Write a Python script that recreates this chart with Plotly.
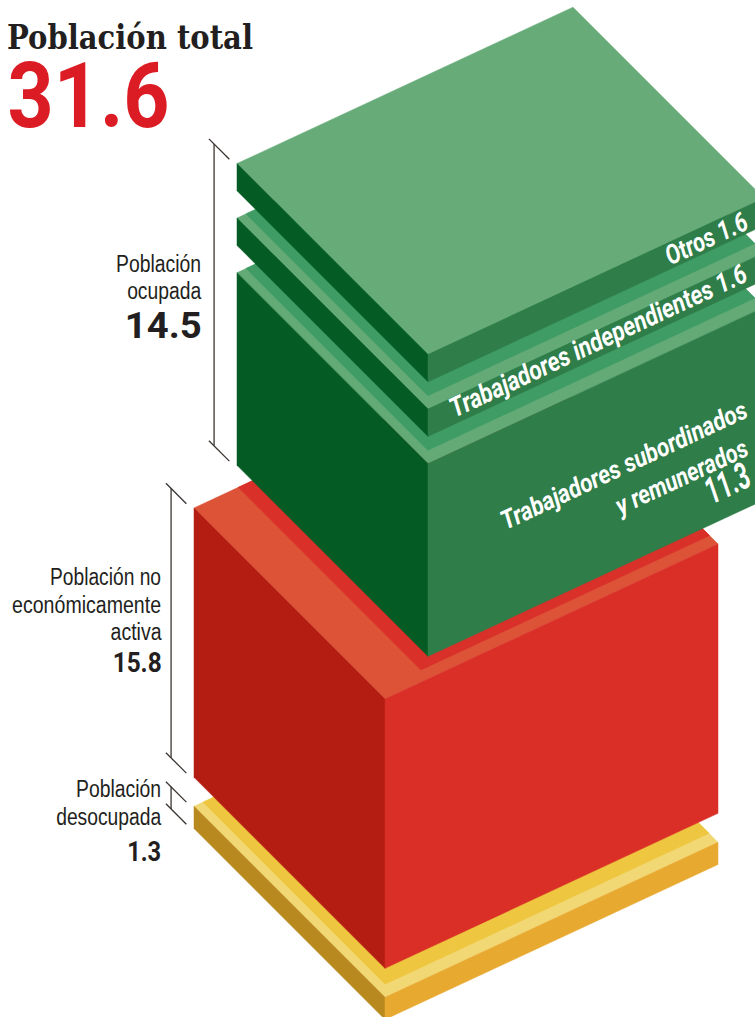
import json
import plotly.graph_objects as go

# ---- data (millions of people) ----
TOTAL = 31.6
OCUPADA = 14.5
LAYER_NAMES = ["Población desocupada", "Población no económicamente activa",
               "Trabajadores subordinados y remunerados",
               "Trabajadores independientes", "Otros"]
LAYER_VALUES = [1.3, 15.8, 11.3, 1.6, 1.6]
GAP_BELOW = [0.0, 1.7, 2.5, 1.6, 1.6]      # empty height under each layer
SHIFT_X = [0, 0, 43, 43, 43]               # sideways offset of each layer
DEPTH = [1, 1, 1.009, 1.009, 1.009]        # footprint stretch of each layer
TOP_INSET = [(0.047, 0.027), (0.044, 0.133), (0.048, 0.027), (0.048, 0.027), None]
TOP_COL = ["#f2d875", "#dd5338", "#63aa77", "#63aa77", "#66ab78"]
SHADE_COL = ["#eec63f", "#d9302a", "#3f9c64", "#3f9c64", None]
LEFT_COL = ["#b8891e", "#b41e12", "#045c24", "#045c24", "#045c24"]
RIGHT_COL = ["#e8a930", "#d92f26", "#2f7d48", "#2f7d48", "#2f7d48"]

# ---- oblique projection ----
W, H = 755, 1017
X0, Y0 = 194, 828.5
E1 = (191, 191)
E2 = (333, -155)
K = 17.05


def pt(u, v, z, sx=0, d=1):
    return (X0 + sx + u * E1[0] + v * d * E2[0],
            Y0 + u * E1[1] + v * d * E2[1] - K * z)


fig = go.Figure()


def poly(points, color):
    xs = [p[0] for p in points] + [points[0][0]]
    ys = [p[1] for p in points] + [points[0][1]]
    fig.add_trace(go.Scatter(x=xs, y=ys, mode="lines", fill="toself", fillcolor=color,
                             line=dict(color=color, width=0.5), hoverinfo="skip",
                             showlegend=False))


def line(p, q, color="#3b3532", width=1.3):
    fig.add_trace(go.Scatter(x=[p[0], q[0]], y=[p[1], q[1]], mode="lines",
                             line=dict(color=color, width=width), hoverinfo="skip",
                             showlegend=False))


z = 0.0
spans = []
for i, val in enumerate(LAYER_VALUES):
    z0 = z + GAP_BELOW[i]
    z1 = z0 + val
    z = z1
    s = SHIFT_X[i]
    d = DEPTH[i]
    spans.append((z0, z1, s))
    poly([pt(0, 0, z1, s, d), pt(1, 0, z1, s, d), pt(1, 1, z1, s, d), pt(0, 1, z1, s, d)], TOP_COL[i])
    if TOP_INSET[i]:
        a, b = TOP_INSET[i]
        poly([pt(0, b, z1, s, d), pt(1 - a, b, z1, s, d), pt(1 - a, 1, z1, s, d), pt(0, 1, z1, s, d)],
             SHADE_COL[i])
    poly([pt(0, 0, z1, s, d), pt(1, 0, z1, s, d), pt(1, 0, z0, s, d), pt(0, 0, z0, s, d)], LEFT_COL[i])
    poly([pt(1, 0, z1, s, d), pt(1, 1, z1, s, d), pt(1, 1, z0, s, d), pt(1, 0, z0, s, d)], RIGHT_COL[i])


# ---- brackets ----
def bracket(zb, zt, sx):
    lift = 0.2
    for zz in (zb - lift, zt - lift):
        line(pt(-0.147, 0, zz, sx), pt(-0.04, 0, zz, sx))
    line(pt(-0.12, 0, zb - lift, sx), pt(-0.12, 0, zt - lift, sx))


bracket(spans[2][0], spans[4][1], spans[2][2])
bracket(spans[1][0], spans[1][1], spans[1][2])
bracket(spans[0][0], spans[0][1], spans[0][2])

# ---- text: every label is fitted to its measured width after drawing ----
DARK = "#231f20"
SANS = "Liberation Sans"
fitted_widths = []


def label(text, x, y, size, width, family=SANS, color=DARK, weight="normal", style="normal",
          angle=0, side="center"):
    cx = {"left": x + width / 2, "right": x - width / 2, "center": x}[side]
    fig.add_annotation(x=cx, y=y, text=text, showarrow=False, xanchor="center", yanchor="middle",
                       textangle=angle, align="center",
                       font=dict(family=family, size=size, color=color, weight=weight, style=style))
    fitted_widths.append(width)


num = dict(family="Roboto", weight="bold", side="right")

label("Población total", 7, 37, 34, 246, family="DejaVu Serif", weight="bold", side="left")
label(f"{TOTAL}", 7, 96, 91, 162, family="Roboto", color="#dc1c24", weight="bold", side="left")

label("Población", 201, 264, 23, 85, side="right")
label("ocupada", 201, 291, 23, 74, side="right")
label(f"{OCUPADA}", 201, 325, 37, 77, **num)

label("Población no", 161, 577, 23, 111, side="right")
label("económicamente", 161, 605, 23, 149, side="right")
label("activa", 161, 632, 23, 51, side="right")
label(f"{LAYER_VALUES[1]}", 161, 662, 28, 49, **num)

label("Población", 161, 789, 23, 85, side="right")
label("desocupada", 161, 817, 23, 105, side="right")
label(f"{LAYER_VALUES[0]}", 161, 851, 28, 34, **num)

ANGLE = -25
WHITE = "#ffffff"
ital = dict(family="Roboto", color=WHITE, weight="bold", style="italic", angle=ANGLE)
label(f"Otros {LAYER_VALUES[4]}", 706, 239, 27, 88, **ital)
label(f"Trabajadores independientes {LAYER_VALUES[3]}", 598, 341, 27, 325, **ital)
label("Trabajadores subordinados", 624, 465, 26, 269, **ital)
label("y remunerados", 681, 477, 26, 143, **ital)
label(f"{LAYER_VALUES[2]}", 727, 483, 37, 46, **ital)

fig.update_layout(
    width=W, height=H, autosize=False, margin=dict(l=0, r=0, t=0, b=0),
    paper_bgcolor="white", plot_bgcolor="white", showlegend=False,
    xaxis=dict(range=[0, W], visible=False, fixedrange=True),
    yaxis=dict(range=[H, 0], visible=False, fixedrange=True),
)

fit_js = (
    "document.body.style.margin='0';document.documentElement.style.overflow='hidden';"
    "var w=" + json.dumps(fitted_widths) + ";"
    "document.querySelectorAll('.annotation-text').forEach(function(t,i){"
    "t.setAttribute('lengthAdjust','spacingAndGlyphs');"
    "t.setAttribute('textLength',w[i]);});"
)
fig.write_html("out.html", config={"displayModeBar": False}, post_script=fit_js)
